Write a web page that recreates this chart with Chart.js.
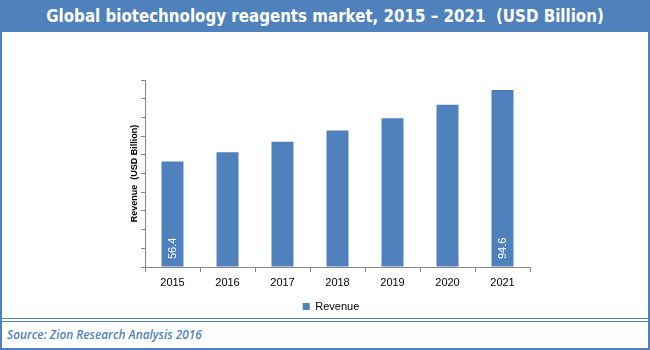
<!DOCTYPE html>
<html>
<head>
<meta charset="utf-8">
<script src="https://cdn.jsdelivr.net/npm/chart.js@4.4.1/dist/chart.umd.min.js"></script>
<style>
  html, body { margin: 0; padding: 0; background: #fff; }
  #wrap { position: relative; width: 650px; height: 350px; overflow: hidden; background: #fff; }
  #titlebar { position: absolute; left: 0; top: 0; width: 650px; height: 32px; background: #4f81bd; }
  #title { position: absolute; left: 0; top: 0; width: 650px; height: 32px; line-height: 33px; text-align: center;
           color: #fff; font-family: "DejaVu Sans Condensed", "DejaVu Sans", sans-serif; font-weight: bold; font-size: 15px; white-space: pre; }
  .bl { position: absolute; background: #4f81bd; }
  #source { position: absolute; left: 7px; top: 326px; color: #4f81bd; font-family: "Open Sans", sans-serif;
            font-style: italic; font-weight: 600; font-size: 12px; white-space: pre; line-height: 16px; }
  #c { position: absolute; left: 0; top: 0; }
</style>
</head>
<body>
<div id="wrap">
  <div id="titlebar"></div>
  <div id="title">Global biotechnology reagents market, 2015 – 2021  (USD Billion)</div>
  <div class="bl" style="left:0;top:32px;width:2px;height:318px;"></div>
  <div class="bl" style="left:648px;top:32px;width:2px;height:318px;"></div>
  <div class="bl" style="left:0;top:348px;width:650px;height:2px;"></div>
  <div class="bl" style="left:0;top:318px;width:650px;height:1px;"></div>
  <div class="bl" style="left:0;top:321px;width:650px;height:1px;"></div>
  <div id="source">Source: Zion Research Analysis 2016</div>
  <canvas id="c" width="650" height="350"></canvas>
</div>
<script>
// ---- data ----
const years = ['2015', '2016', '2017', '2018', '2019', '2020', '2021'];
const revenue = [56.4, 61.4, 67.0, 73.0, 79.5, 86.7, 94.6];
const labelledYears = ['2015', '2021'];
const seriesName = 'Revenue';
const yAxisTitle = 'Revenue  (USD Billion)';

// fit header/source text widths
function fitWidth(el, target) {
  const cs = getComputedStyle(el);
  const ctx = document.createElement('canvas').getContext('2d');
  let size = parseFloat(cs.fontSize);
  ctx.font = `${cs.fontStyle} ${cs.fontWeight} ${size}px ${cs.fontFamily}`;
  const w = ctx.measureText(el.textContent).width;
  el.style.fontSize = (size * target / w).toFixed(2) + 'px';
}
fitWidth(document.getElementById('title'), 558);
fitWidth(document.getElementById('source'), 195);

const barColor = '#4f81bd';
const axisColor = '#868686';

const valueLabelPlugin = {
  id: 'valueLabels',
  afterDatasetsDraw(chart) {
    const meta = chart.getDatasetMeta(0);
    const yScale = chart.scales.y;
    const ctx = chart.ctx;
    ctx.save();
    ctx.fillStyle = '#ffffff';
    ctx.font = '11px "Liberation Sans", sans-serif';
    ctx.textAlign = 'left';
    ctx.textBaseline = 'middle';
    years.forEach((yr, i) => {
      if (!labelledYears.includes(yr)) return;
      const el = meta.data[i];
      const base = yScale.getPixelForValue(0);
      ctx.save();
      ctx.translate(el.x, base - 8);
      ctx.rotate(-Math.PI / 2);
      ctx.fillText(String(revenue[i]), 0, 0);
      ctx.restore();
    });
    ctx.restore();
  }
};

new Chart(document.getElementById('c'), {
  type: 'bar',
  data: {
    labels: years,
    datasets: [{
      label: seriesName,
      data: revenue,
      backgroundColor: barColor,
      borderWidth: 0,
      barPercentage: 0.8,
      categoryPercentage: 0.5
    }]
  },
  options: {
    responsive: false,
    animation: false,
    events: [],
    layout: { padding: { top: 80, left: 12, right: 0, bottom: 28 } },
    plugins: {
      legend: {
        position: 'bottom',
        labels: {
          boxWidth: 7, boxHeight: 7, padding: 10, color: '#000',
          font: { family: '"Liberation Sans", sans-serif', size: 11 }
        }
      },
      tooltip: { enabled: false }
    },
    scales: {
      x: {
        grid: { drawOnChartArea: false, drawTicks: true, tickLength: 5, color: axisColor, offset: true },
        border: { color: axisColor, width: 1 },
        ticks: { color: '#000', padding: 4, font: { family: '"Liberation Sans", sans-serif', size: 11 } },
        afterFit(s) { s.height = 24; }
      },
      y: {
        min: 0, max: 100,
        grid: { drawOnChartArea: false, drawTicks: true, tickLength: 4, color: axisColor },
        border: { color: axisColor, width: 1 },
        ticks: { stepSize: 10, display: false },
        title: {
          display: true, text: yAxisTitle, color: '#000',
          font: { family: '"Liberation Sans", sans-serif', size: 9, weight: 'bold' },
          padding: { top: 117, bottom: 0 }
        },
        afterFit(s) { s.width = 133; }
      },
      yRightSpace: {
        position: 'right',
        min: 0, max: 100,
        grid: { display: false },
        border: { display: false },
        ticks: { display: false },
        afterFit(s) { s.width = 120; }
      }
    }
  },
  plugins: [valueLabelPlugin]
});
</script>
</body>
</html>
